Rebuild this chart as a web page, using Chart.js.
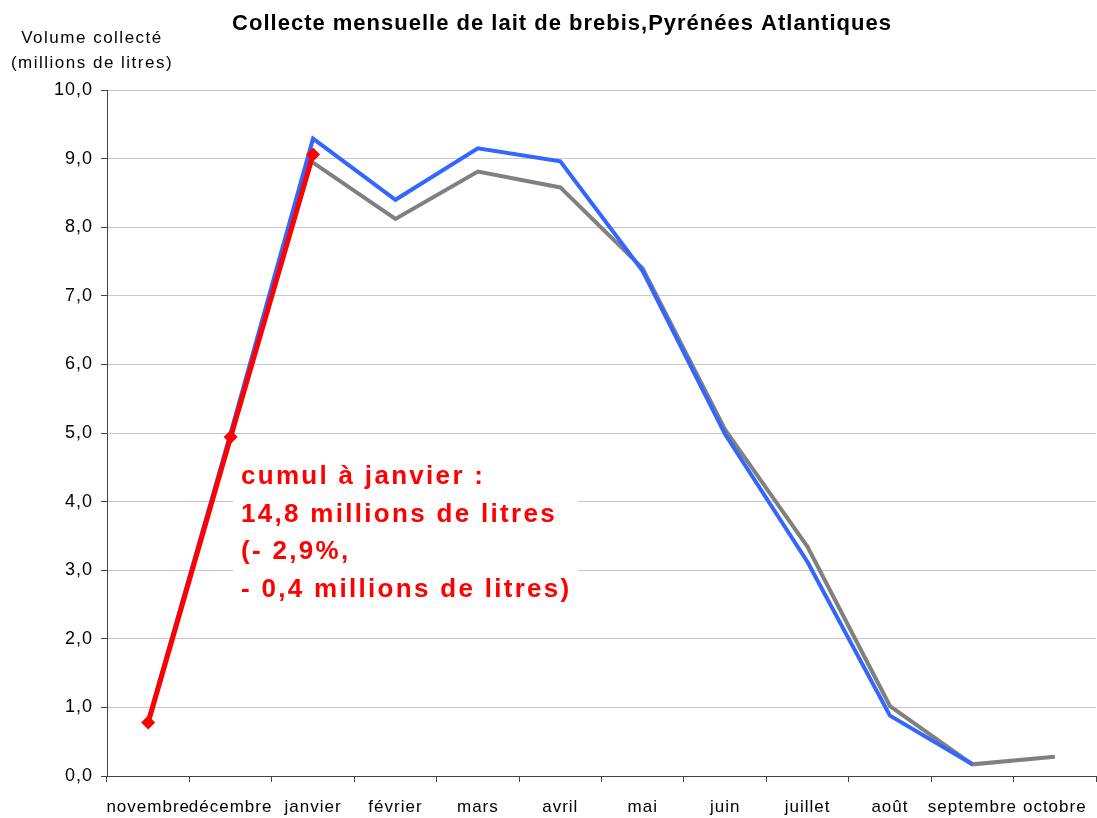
<!DOCTYPE html>
<html>
<head>
<meta charset="utf-8">
<script src="https://cdn.jsdelivr.net/npm/chart.js@4/dist/chart.umd.min.js"></script>
<style>
  html, body { margin: 0; padding: 0; background: #fff; }
  canvas { display: block; }
</style>
</head>
<body>
<canvas id="chart" width="1097" height="818"></canvas>
<script>
// months of the campaign, november to october
const months = ['novembre', 'décembre', 'janvier', 'février', 'mars', 'avril',
  'mai', 'juin', 'juillet', 'août', 'septembre', 'octobre'];

// current campaign (red, up to january)
const current = [0.78, 4.94, 9.06, null, null, null, null, null, null, null, null, null];
// previous campaign (blue)
const previous = [0.80, 5.00, 9.29, 8.40, 9.15, 8.96, 7.36, 4.98, 3.12, 0.88, 0.17, null];
// reference campaign (gray)
const reference = [null, null, 8.94, 8.12, 8.81, 8.58, 7.40, 5.05, 3.34, 1.02, 0.17, 0.28];

const yTicks = [0, 1, 2, 3, 4, 5, 6, 7, 8, 9, 10];

const noteLines = ['cumul à janvier :', '14,8 millions de litres', '(- 2,9%,', '- 0,4 millions de litres)'];

const FONT = '"Liberation Sans", Arial, sans-serif';

// titles and the red note
const textPlugin = {
  id: 'texts',
  beforeDraw(chart) {
    chart.ctx.letterSpacing = '1px';
  },
  beforeDatasetsDraw(chart) {
    const ctx = chart.ctx;
    ctx.save();
    ctx.fillStyle = '#fff';
    ctx.fillRect(233, 449, 345, 160);
    ctx.restore();
  },
  afterDraw(chart) {
    const ctx = chart.ctx;
    ctx.save();
    ctx.fillStyle = '#000';
    ctx.textAlign = 'center';
    ctx.textBaseline = 'alphabetic';
    ctx.letterSpacing = '1px';
    ctx.font = 'bold 22px ' + FONT;
    ctx.fillText('Collecte mensuelle de lait de brebis,Pyrénées Atlantiques', 562, 30);
    ctx.letterSpacing = '1.5px';
    ctx.font = '17px ' + FONT;
    ctx.fillText('Volume collecté', 92, 43);
    ctx.fillText('(millions de litres)', 92, 68);

    ctx.fillStyle = '#ff0000';
    ctx.textAlign = 'left';
    ctx.letterSpacing = '2.3px';
    ctx.font = 'bold 26px ' + FONT;
    noteLines.forEach((l, i) => ctx.fillText(l, 241, 484 + i * 37.7));
    ctx.restore();
  }
};

new Chart(document.getElementById('chart'), {
  type: 'line',
  data: {
    labels: months,
    datasets: [
      {
        label: 'cumul',
        data: current,
        borderColor: '#ff0000',
        backgroundColor: '#ff0000',
        borderWidth: 5,
        pointStyle: 'rectRot',
        pointRadius: 7,
        pointBorderWidth: 0,
        tension: 0
      },
      {
        label: 'campagne précédente',
        data: previous,
        borderColor: '#3366ff',
        borderWidth: 4,
        pointRadius: 0,
        tension: 0
      },
      {
        label: 'référence',
        data: reference,
        borderColor: '#808080',
        borderWidth: 4,
        pointRadius: 0,
        tension: 0
      }
    ]
  },
  options: {
    responsive: false,
    animation: false,
    layout: { autoPadding: false, padding: { top: 90, left: 0, right: 1, bottom: 0 } },
    plugins: {
      legend: { display: false },
      title: { display: false },
      tooltip: { enabled: false }
    },
    scales: {
      x: {
        offset: true,
        grid: { offset: true, drawOnChartArea: false, tickLength: 6, tickColor: '#444' },
        border: { color: '#444', width: 1 },
        ticks: {
          autoSkip: false, maxRotation: 0, minRotation: 0, padding: 15,
          color: '#000', font: { family: FONT, size: 17 }
        },
        afterFit(scale) {
          scale.height = 42;
          scale.paddingLeft = 0;
          scale.paddingRight = 0;
        }
      },
      y: {
        min: 0,
        max: 10,
        afterBuildTicks(scale) { scale.ticks = yTicks.map(v => ({ value: v })); },
        grid: { color: '#c8c8c8', tickLength: 6, tickColor: '#444' },
        border: { color: '#444', width: 1 },
        ticks: {
          padding: 8,
          color: '#000',
          font: { family: FONT, size: 18 },
          callback: v => v.toFixed(1).replace('.', ',')
        },
        afterFit(scale) {
          scale.width = 107;
          scale.paddingTop = 0;
          scale.paddingBottom = 0;
        }
      }
    }
  },
  plugins: [textPlugin]
});
</script>
</body>
</html>
